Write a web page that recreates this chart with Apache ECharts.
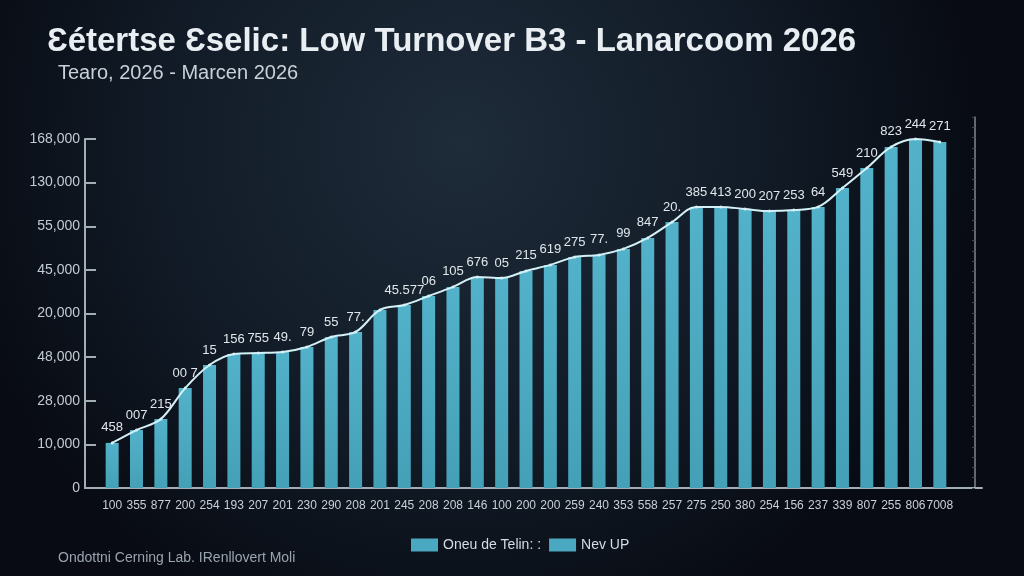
<!DOCTYPE html>
<html lang="en">
  <head>
    <meta charset="UTF-8" />
    <title>Low Turnover B3</title>
    <script src="https://cdn.jsdelivr.net/npm/echarts@6/dist/echarts.min.js"></script>
    <style>
      html, body { margin: 0; padding: 0; background: #0b1019; }
    </style>
  </head>
  <body>
    <div id="chart" style="width: 1024px; height: 576px"></div>

    <script>
      // categories (x labels as printed)
      var categories = ["100", "355", "877", "200", "254", "193", "207", "201", "230", "290",
        "208", "201", "245", "208", "208", "146", "100", "200", "200", "259",
        "240", "353", "558", "257", "275", "250", "380", "254", "156", "237",
        "339", "807", "255", "806", "7008"];

      // bar heights
      var barValues = [21700, 27900, 33200, 48100, 59200, 64500, 65000, 65500, 67900, 72700,
        75100, 85700, 88100, 92400, 96800, 101600, 101100, 104500, 107400, 111200,
        112200, 115100, 120400, 128000, 135300, 135300, 134300, 133300, 133800, 135300,
        144400, 154000, 164200, 168000, 166600];

      // line follows the bar tops
      var lineValues = barValues.slice();

      // labels above the line points
      var pointLabels = ["458", "007", "215", "00 7", "15", "156", "755", "49.", "79", "55",
        "77.", "", "45.577", "06", "105", "676", "05", "215", "619", "275",
        "77.", "99", "847", "20.", "385", "413", "200", "207", "253", "64",
        "549", "210", "823", "244", "271"];

      // y tick labels, bottom to top
      var yTickLabels = ["0", "10,000", "28,000", "48,000", "20,000", "45,000", "55,000", "130,000", "168,000"];
      var yStep = 21000;

      var barColor = "#4aa9c0";
      var lineColor = "#d3f1f7";
      var font = "Liberation Sans";

      var myChart = echarts.init(document.getElementById("chart"));

      var option = {
        backgroundColor: {
          type: "radial", x: 0.45, y: 0.25, r: 0.9,
          colorStops: [
            { offset: 0, color: "#1e2b39" },
            { offset: 0.55, color: "#121c28" },
            { offset: 1, color: "#080b13" }
          ]
        },
        animation: false,
        title: [
          {
            text: "Ɛétertse Ɛselic: Low Turnover B3 - Lanarcoom 2026",
            left: 42, top: 20,
            textStyle: { color: "#e9eef2", fontSize: 33, fontWeight: "bold", fontFamily: font }
          },
          {
            text: "Tearo, 2026 - Marcen 2026",
            left: 53, top: 58,
            textStyle: { color: "#c9d1d8", fontSize: 20, fontWeight: "normal", fontFamily: font }
          },
          {
            text: "Ondottni Cerning Lab. IRenllovert Moli",
            left: 53, top: 546,
            textStyle: { color: "#9aa4ae", fontSize: 14, fontWeight: "normal", fontFamily: font }
          }
        ],
        legend: {
          left: 406, top: 533,
          itemWidth: 27, itemHeight: 13, itemGap: 8,
          icon: "rect",
          textStyle: { color: "#d5dce2", fontSize: 14, fontFamily: font },
          data: [
            { name: "Oneu de Telin: :", itemStyle: { color: barColor } },
            { name: "Nev UP", itemStyle: { color: barColor }, lineStyle: { opacity: 0 } }
          ]
        },
        grid: [
          // bars
          { left: 100, right: 72, top: 139, bottom: 88 },
          // left axis + long x axis line
          { left: 85, right: 42, top: 139, bottom: 88 },
          // right thin axis
          { left: 85, right: 49, top: 117, bottom: 88 }
        ],
        xAxis: [
          {
            type: "category", gridIndex: 0, data: categories,
            axisLine: { show: false }, axisTick: { show: false },
            axisLabel: { interval: 0, color: "#c8d0d8", fontSize: 12, margin: 12, fontFamily: font }
          },
          {
            type: "value", gridIndex: 1, min: 0, max: 1,
            axisLine: { show: true, onZero: false, lineStyle: { color: "#a3adb6", width: 2 } },
            axisTick: { show: false }, axisLabel: { show: false }, splitLine: { show: false }
          },
          {
            type: "value", gridIndex: 2, min: 0, max: 1, show: false
          }
        ],
        yAxis: [
          { type: "value", gridIndex: 0, min: 0, max: 168000, show: false },
          {
            type: "value", gridIndex: 1, min: 0, max: 168000, interval: yStep,
            axisLine: { show: true, onZero: false, lineStyle: { color: "#a3adb6", width: 2 } },
            axisTick: { show: true, inside: true, length: 11, lineStyle: { color: "#a3adb6", width: 2 } },
            splitLine: { show: false },
            axisLabel: {
              color: "#c3cbd2", fontSize: 14, margin: 5, fontFamily: font,
              formatter: function (v) { return yTickLabels[Math.round(v / yStep)]; }
            }
          },
          {
            type: "value", gridIndex: 2, position: "right", min: 0, max: 36, interval: 1,
            axisLine: { show: true, onZero: false, lineStyle: { color: "#7f8993", width: 1.5 } },
            axisTick: { show: true, inside: true, length: 3, lineStyle: { color: "#3f4955" } },
            axisLabel: { show: false }, splitLine: { show: false }
          }
        ],
        series: [
          {
            name: "Oneu de Telin: :",
            type: "bar", xAxisIndex: 0, yAxisIndex: 0,
            barWidth: 13,
            itemStyle: {
              color: {
                type: "linear", x: 0, y: 0, x2: 0, y2: 1,
                colorStops: [{ offset: 0, color: "#52b2c9" }, { offset: 1, color: "#44a0b7" }]
              }
            },
            data: barValues
          },
          {
            name: "Nev UP",
            type: "line", xAxisIndex: 0, yAxisIndex: 0,
            smooth: 0.35,
            symbol: "circle", symbolSize: 3,
            lineStyle: { color: lineColor, width: 2 },
            itemStyle: { color: lineColor },
            label: {
              show: true, position: "top", distance: 7,
              color: "#e0e7eb", fontSize: 13, fontFamily: font,
              formatter: function (p) { return pointLabels[p.dataIndex]; }
            },
            data: lineValues,
            z: 5
          }
        ]
      };

      myChart.setOption(option);
    </script>
  </body>
</html>
